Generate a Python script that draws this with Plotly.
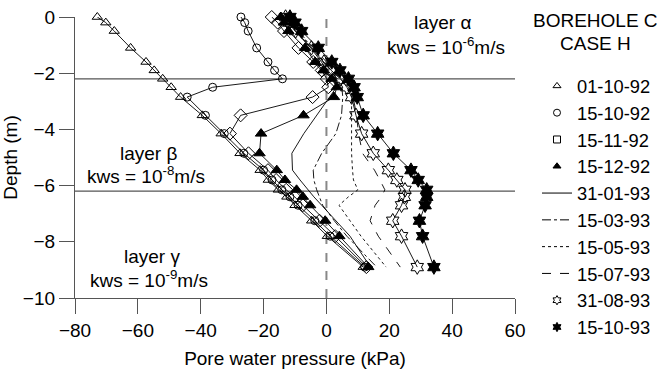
import plotly.graph_objects as go

# ---------------- data ----------------
depth = [0, -0.2, -0.5, -1.1, -1.6, -1.9, -2.2, -2.5, -2.85, -3.5,
         -4.15, -4.85, -5.45, -5.8, -6.15, -6.4, -6.7, -7.25, -7.8, -8.9]

dates = ["01-10-92", "15-10-92", "15-11-92", "15-12-92", "31-01-93",
         "15-03-93", "15-05-93", "15-07-93", "31-08-93", "15-10-93"]

p_011092 = [-72.9, -70.2, -67.5, -62.3, -57.4, -54.8, -52.1, -49.4, -46.4, -39.5,
            -33.5, -27.5, -21.1, -18.5, -15.3, -12.6, -10.0, -4.7, 0.3, 11.7]
p_151092 = [-27.2, -26.0, -24.9, -22.2, -18.6, -16.5, -14.0, -36.2, -44.3, -38.5,
            -32.5, -26.3, -20.0, -17.3, -14.2, -11.6, -9.0, -3.7, 1.2, 12.2]
p_151192 = [-17.4, -15.5, -13.5, -8.9, -4.2, -1.5, 0.1, 0.6, -4.4, -27.3,
            -30.7, -24.8, -18.6, -16.0, -12.8, -10.1, -7.5, -2.2, 2.8, 12.7]
p_151292 = [-14.5, -13.5, -12.1, -6.8, -3.6, -1.0, 1.7, 3.3, 2.4, -7.3,
            -20.8, -21.3, -15.8, -13.2, -9.5, -7.5, -5.2, -0.4, 4.1, 13.3]
p_310193 = [-13.5, -12.0, -10.0, -5.0, -1.5, 0.5, 2.5, 3.2, 1.0, -3.3,
            -7.2, -11.0, -10.8, -8.4, -6.0, -4.0, -1.5, 3.0, 7.5, 14.0]
p_150393 = [-13.0, -11.5, -9.5, -4.5, -1.0, 1.0, 3.5, 4.9, 5.2, 4.8,
            3.0, -1.5, -4.2, -4.0, -3.1, -2.3, -1.2, 2.5, 6.5, 16.0]
p_150593 = [-13.0, -11.5, -9.3, -4.2, -0.5, 1.5, 4.5, 7.0, 8.0, 8.0,
            8.0, 8.0, 8.3, 8.6, 10.0, 7.0, 4.0, 7.5, 11.0, 19.0]
p_150793 = [-12.5, -11.0, -9.0, -4.0, 0.0, 2.0, 5.0, 7.0, 8.5, 9.6,
            10.2, 11.5, 15.3, 17.0, 18.6, 17.5, 15.5, 13.9, 16.5, 23.5]
p_310893 = [-13.0, -11.8, -9.8, -4.8, -0.8, 1.5, 4.5, 6.5, 8.0, 9.4,
            11.2, 14.9, 19.7, 22.4, 25.0, 24.8, 23.9, 21.1, 23.9, 28.9]
p_151093 = [-11.6, -10.0, -7.9, -2.6, 1.7, 4.3, 7.0, 8.8, 9.8, 11.7,
            16.3, 21.3, 26.9, 29.2, 31.9, 31.9, 31.4, 29.6, 30.6, 34.2]

layer_bounds = [-2.2, -6.2]
x_ticks = [-80, -60, -40, -20, 0, 20, 40, 60]
y_ticks = [0, -2, -4, -6, -8, -10]

# ---------------- styles ----------------
FONT = "Liberation Sans, Arial, sans-serif"
FS = 19
LFS = 18.3
styles = [
    dict(mode="lines+markers", symbol="triangle-up-open", size=9, lsym="triangle-up-open", dash="solid"),
    dict(mode="lines+markers", symbol="circle-open", size=8, lsym="circle-open", dash="solid"),
    dict(mode="lines+markers", symbol="diamond-open", size=10, lsym="square-open", dash="solid"),
    dict(mode="lines+markers", symbol="triangle-up", size=10, lsym="triangle-up", dash="solid"),
    dict(mode="lines", dash="solid"),
    dict(mode="lines", dash="dashdot"),
    dict(mode="lines", dash="dot"),
    dict(mode="lines", dash="dash"),
    dict(mode="lines+markers", symbol="hexagram-open", size=11, lsym="hexagram-open", dash="solid"),
    dict(mode="lines+markers", symbol="hexagram", size=11, lsym="hexagram", dash="solid"),
]
values = [p_011092, p_151092, p_151192, p_151292, p_310193,
          p_150393, p_150593, p_150793, p_310893, p_151093]

fig = go.Figure()
for name, vals, st in zip(dates, values, styles):
    tr = dict(x=vals, y=depth, mode=st["mode"], name=name, showlegend=False,
              cliponaxis=False,
              line=dict(color="black", width=0.9, dash=st["dash"]))
    if "symbol" in st:
        tr["marker"] = dict(symbol=st["symbol"], size=st["size"], color="black",
                            line=dict(color="black", width=1))
    fig.add_trace(go.Scatter(**tr))

# legend proxies (legend shows a square for 15-11-92)
for name, st in zip(dates, styles):
    if "symbol" in st:
        fig.add_trace(go.Scatter(x=[None], y=[None], mode="markers", name=name,
                                 marker=dict(symbol=st["lsym"], size=7, color="black",
                                             line=dict(color="black", width=1))))
    else:
        fig.add_trace(go.Scatter(x=[None], y=[None], mode="lines", name=name,
                                 line=dict(color="black", width=1, dash=st["dash"])))

# reference lines
for yb in layer_bounds:
    fig.add_shape(type="line", xref="x", yref="y", x0=x_ticks[0], x1=x_ticks[-1],
                  y0=yb, y1=yb, line=dict(color="#555555", width=1.3), layer="below")
fig.add_shape(type="line", xref="x", yref="y", x0=0, x1=0, y0=y_ticks[-1], y1=y_ticks[0],
              line=dict(color="#888888", width=2, dash="dash"), layer="below")

W, H = 658, 378
L, R, T, B = 75, 143, 17, 80
PW, PH = W - L - R, H - T - B

ann_font = dict(family=FONT, size=FS, color="black")
annots = [
    (442, 22, "layer α"), (446, 46, "kws = 10<sup>-6</sup>m/s"),
    (148, 153, "layer β"), (146, 175, "kws = 10<sup>-8</sup>m/s"),
    (152, 256, "layer γ"), (149, 279, "kws = 10<sup>-9</sup>m/s"),
    (595, 21, "BOREHOLE C"), (595, 43, "CASE H"),
]
for px, py, txt in annots:
    fig.add_annotation(x=(px - L) / PW, y=1 - (py - T) / PH,
                       xref="paper", yref="paper", text=txt, showarrow=False,
                       font=ann_font, xanchor="center", yanchor="middle")

fig.update_layout(
    width=W, height=H,
    margin=dict(l=L, r=R, t=T, b=B, autoexpand=False),
    paper_bgcolor="white", plot_bgcolor="white",
    font=dict(family=FONT, size=FS, color="black"),
    legend=dict(x=(537 - L) / PW, xanchor="left", y=1 - (67.5 - T) / PH, yanchor="top",
                font=dict(family=FONT, size=LFS, color="black"),
                traceorder="normal", bgcolor="rgba(0,0,0,0)", itemwidth=30),
    xaxis=dict(range=[-80, 60], tickvals=x_ticks, ticks="outside", ticklen=15,
               tickcolor="#555555", showline=True, linecolor="#555555", linewidth=1.3,
               showgrid=False, zeroline=False,
               title=dict(text="Pore water pressure (kPa)", font=dict(size=FS), standoff=11),
               tickfont=dict(size=FS)),
    yaxis=dict(range=[-10, 0], tickvals=y_ticks, ticks="outside", ticklen=15,
               tickcolor="#555555", showline=True, linecolor="#555555", linewidth=1.3,
               showgrid=False, zeroline=False,
               title=dict(text="Depth (m)", font=dict(size=FS), standoff=4),
               tickfont=dict(size=FS)),
)

fig.write_html("out.html")
